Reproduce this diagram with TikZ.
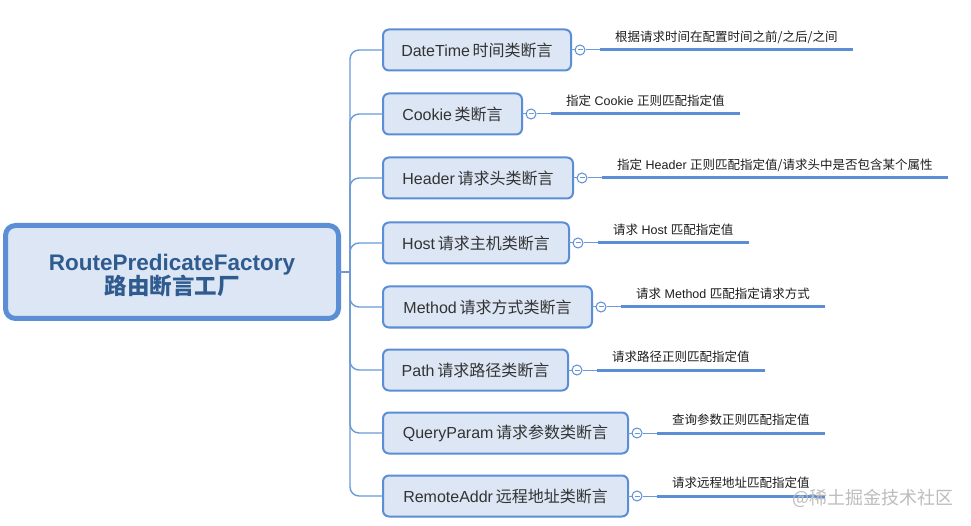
\documentclass[tikz,border=0pt]{standalone}
\usepackage{fontspec}
\setmainfont{Liberation Sans}
\newfontfamily\cjk{Noto Sans CJK SC}
\definecolor{boxborder}{HTML}{5B8ED4}
\definecolor{boxfill}{HTML}{DCE6F4}
\definecolor{conncol}{HTML}{6B9AD6}
\definecolor{roottext}{HTML}{2F5B8F}
\definecolor{childtext}{HTML}{333333}
\definecolor{leaftext}{HTML}{1E1E1E}
\definecolor{markgray}{HTML}{BDBDBD}
\begin{document}
\begin{tikzpicture}[x=1pt,y=-1pt,
  rootbox/.style={draw=boxborder, fill=boxfill, line width=5pt, rounded corners=10pt,
    minimum width=333pt, minimum height=93pt, align=center, outer sep=0pt,
    font=\bfseries\fontsize{22.5}{23.5}\selectfont, text=roottext, inner sep=0pt},
  childbox/.style={draw=boxborder, fill=boxfill, line width=2pt, rounded corners=6pt,
    minimum height=41pt, anchor=west, outer sep=0pt,
    font=\fontsize{16}{19}\selectfont, text=childtext, inner sep=0pt},
  tog/.style={circle, draw=boxborder, fill=white, line width=1pt, minimum size=10pt, inner sep=0pt,
    path picture={\draw[conncol, line width=1pt]
      ([xshift=-2.5pt]path picture bounding box.center) -- ([xshift=2.5pt]path picture bounding box.center);}},
  leaf/.style={anchor=south west, inner xsep=15pt, inner ysep=0pt, text height=10pt, text depth=8pt,
    font=\fontsize{12.5}{14}\selectfont, text=leaftext},
  conn/.style={draw=conncol, line width=1.4pt},
  thin/.style={draw=conncol, line width=1pt},
  leafline/.style={draw=boxborder, line width=3pt},
]
\useasboundingbox (0,0) rectangle (971,526);
\fill[white] (0,0) rectangle (971,526);

% root
\node[rootbox] (root) at (172,272) {\raisebox{-11pt}[0pt][0pt]{\begin{tabular}{@{}c@{}}RoutePredicateFactory\\[-3pt]{\cjk 路由断言工厂}\end{tabular}}};
\coordinate (trunk) at (350,272);

% children
\node[childbox, minimum width=188pt] (c1) at (383,50)  {DateTime\,{\cjk 时间类断言}};
\node[childbox, minimum width=139pt] (c2) at (383,114) {Cookie\,{\cjk 类断言}};
\node[childbox, minimum width=190pt] (c3) at (383,178) {Header\,{\cjk 请求头类断言}};
\node[childbox, minimum width=186pt] (c4) at (383,243) {Host\,{\cjk 请求主机类断言}};
\node[childbox, minimum width=209pt] (c5) at (383,307) {Method\,{\cjk 请求方式类断言}};
\node[childbox, minimum width=185pt] (c6) at (383,370) {Path\,{\cjk 请求路径类断言}};
\node[childbox, minimum width=245pt] (c7) at (383,433) {QueryParam\,{\cjk 请求参数类断言}};
\node[childbox, minimum width=245pt] (c8) at (383,496) {RemoteAddr\,{\cjk 远程地址类断言}};

% connectors root -> children
\draw[conn] (root.east) -- (trunk);
\foreach \i in {1,...,8} {
  \draw[conn, rounded corners=9pt] (trunk) |- (c\i.west);
}

% toggles
\foreach \i in {1,...,8} {
  \node[tog] (k\i) at ([xshift=9pt]c\i.east) {};
  \draw[thin] (c\i.east) -- (k\i.west);
}

% leaves
\node[leaf] (l1) at ([xshift=20pt]k1.center) {{\cjk 根据请求时间在配置时间之前/之后/之间}};
\node[leaf] (l2) at ([xshift=20pt]k2.center) {{\cjk 指定} Cookie {\cjk 正则匹配指定值}};
\node[leaf] (l3) at ([xshift=20pt]k3.center) {{\cjk 指定} Header {\cjk 正则匹配指定值/请求头中是否包含某个属性}};
\node[leaf] (l4) at ([xshift=20pt]k4.center) {{\cjk 请求} Host {\cjk 匹配指定值}};
\node[leaf] (l5) at ([xshift=20pt]k5.center) {{\cjk 请求} Method {\cjk 匹配指定请求方式}};
\node[leaf] (l6) at ([xshift=20pt]k6.center) {{\cjk 请求路径正则匹配指定值}};
\node[leaf] (l7) at ([xshift=20pt]k7.center) {{\cjk 查询参数正则匹配指定值}};
\node[leaf] (l8) at ([xshift=20pt]k8.center) {{\cjk 请求远程地址匹配指定值}};

\foreach \i in {1,...,8} {
  \draw[thin] (k\i.east) -- (l\i.south west);
  \draw[leafline] (l\i.south west) -- (l\i.south east);
}

% watermark
\node[anchor=west, inner sep=0pt, font=\cjk\fontsize{18}{20}\selectfont, text=markgray] (wm) at (792,498) {@稀土掘金技术社区};
\end{tikzpicture}
\end{document}
